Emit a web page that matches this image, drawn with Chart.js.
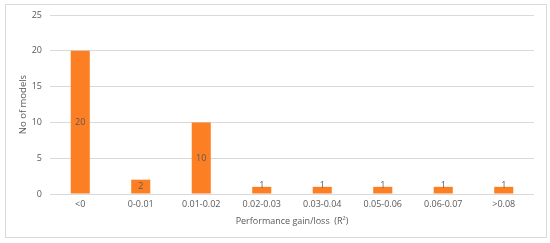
<!DOCTYPE html>
<html><head><meta charset="utf-8">
<script src="https://cdn.jsdelivr.net/npm/chart.js@4/dist/chart.umd.min.js"></script>
<style>html,body{margin:0;padding:0;background:#fff}#wrap{position:relative;width:550px;height:243px}</style>
</head><body><div id="wrap"><canvas id="c" width="550" height="243"></canvas></div>
<script>
const categories = ["<0","0-0.01","0.01-0.02","0.02-0.03","0.03-0.04","0.05-0.06","0.06-0.07",">0.08"];
const counts = [20,2,10,1,1,1,1,1];
const yTicks = [0,5,10,15,20,25];
const textColor = '#595959';
const fontFam = '"Open Sans", "Liberation Sans", sans-serif';

const labelPlugin = {
  id:'lbl',
  afterDatasetsDraw(chart){
    const ctx = chart.ctx;
    const meta = chart.getDatasetMeta(0);
    ctx.save();
    ctx.fillStyle = textColor;
    ctx.font = '9px ' + fontFam;
    ctx.textAlign='center'; ctx.textBaseline='middle';
    meta.data.forEach((b,i)=>{
      const yc = (b.y + b.base)/2;
      ctx.fillText(String(counts[i]), b.x, counts[i] < 2 ? b.y - 1 : yc);
    });
    ctx.restore();
  },
  afterDraw(chart){
    const ctx = chart.ctx;
    ctx.save();
    ctx.strokeStyle='#d9d9d9'; ctx.lineWidth=1;
    ctx.strokeRect(5.5,4.5,541,233);
    ctx.restore();
  }
};

new Chart(document.getElementById('c'), {
  type:'bar',
  data:{labels:categories, datasets:[{data:counts, backgroundColor:'#FD7F23', categoryPercentage:1, barPercentage:0.315}]},
  options:{
    responsive:false, animation:false,
    layout:{padding:{left:18, top:15, right:16, bottom:16}},
    plugins:{legend:{display:false}, tooltip:{enabled:false}},
    scales:{
      x:{
        grid:{display:false, drawTicks:false}, border:{display:false},
        ticks:{color:textColor, font:{family:fontFam,size:9}, padding:5, maxRotation:0},
        title:{display:true, text:'Performance gain/loss  (R²)', color:textColor, font:{family:fontFam,size:9}, padding:{top:2,bottom:0}},
        afterFit(s){ s.height = 33; }
      },
      y:{
        min:0, max:25,
        afterBuildTicks(s){ s.ticks = yTicks.map(v=>({value:v})); },
        grid:{color:'#d9d9d9', drawTicks:false}, border:{display:false},
        ticks:{color:textColor, font:{family:fontFam,size:9}, padding:8},
        title:{display:true, text:'No of models', color:textColor, font:{family:fontFam,size:9.5}, padding:{top:0,bottom:6}},
        afterFit(s){ s.width = 32; }
      }
    }
  },
  plugins:[labelPlugin]
});
</script></body></html>
